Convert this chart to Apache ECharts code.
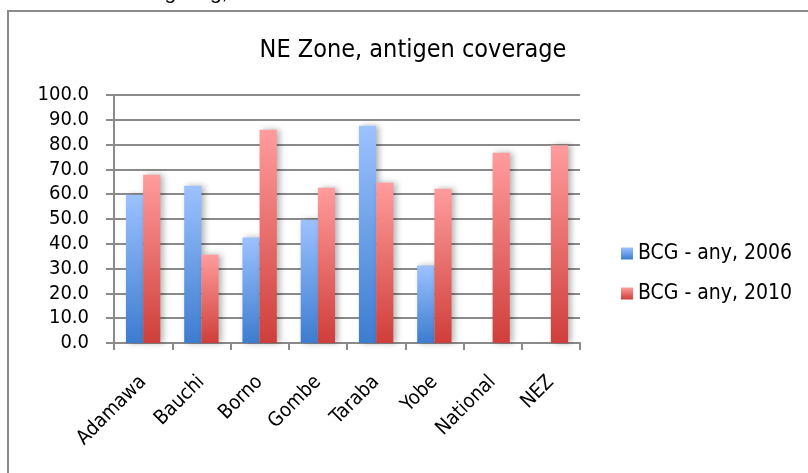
<!DOCTYPE html>
<html>
<head>
<meta charset="utf-8">
<script src="https://cdn.jsdelivr.net/npm/echarts@6/dist/echarts.min.js"></script>
<style>
  html, body { margin: 0; padding: 0; background: #fff; }
  #chart { width: 808px; height: 473px; }
</style>
</head>
<body>
<div id="chart"></div>
<script>
// Regions of the North-East zone plus national and zone averages
const regions = ['Adamawa', 'Bauchi', 'Borno', 'Gombe', 'Taraba', 'Yobe', 'National', 'NEZ'];

// BCG coverage (%) by survey year; no 2006 figure for National / NEZ
const bcg2006 = [59.8, 63.4, 42.5, 49.7, 87.6, 31.2, null, null];
const bcg2010 = [67.8, 35.6, 86.0, 62.6, 64.6, 62.2, 76.7, 79.7];

const seriesNames = ['BCG - any, 2006', 'BCG - any, 2010'];
const chartTitle = 'NE Zone, antigen coverage';
const clippedLine = 'for better targeting, and care to';

const FONT = "'DejaVu Sans Condensed', 'DejaVu Sans', sans-serif";
const GRID_GREY = '#8a8a8a';

function vGradient(top, bottom) {
  return new echarts.graphic.LinearGradient(0, 0, 0, 1, [
    { offset: 0, color: top },
    { offset: 1, color: bottom }
  ]);
}

const barShadow = {
  shadowColor: 'rgba(0,0,0,0.30)',
  shadowBlur: 6,
  shadowOffsetX: 3,
  shadowOffsetY: 0
};

const chart = echarts.init(document.getElementById('chart'), null, { renderer: 'canvas' });

chart.setOption({
  animation: false,
  backgroundColor: '#ffffff',
  title: {
    text: chartTitle,
    left: 408,
    textAlign: 'center',
    top: 33,
    textStyle: { fontFamily: FONT, fontSize: 25, fontWeight: 'normal', color: '#000' }
  },
  legend: {
    orient: 'vertical',
    left: 621,
    top: 243,
    padding: 0,
    itemWidth: 12,
    itemHeight: 12,
    itemGap: 19,
    icon: 'rect',
    data: seriesNames,
    textStyle: { fontFamily: FONT, fontSize: 21, color: '#000' }
  },
  grid: { left: 114, right: 228, top: 95, bottom: 130, containLabel: false },
  xAxis: {
    type: 'category',
    data: regions,
    axisLine: { show: true, lineStyle: { color: GRID_GREY, width: 2 } },
    axisTick: { show: true, length: 7, alignWithLabel: false, lineStyle: { color: GRID_GREY, width: 2 } },
    axisLabel: { rotate: 45, margin: 36, interval: 0, fontFamily: FONT, fontSize: 20, color: '#000' }
  },
  yAxis: {
    type: 'value',
    min: 0,
    max: 100,
    interval: 10,
    axisLine: { show: true, lineStyle: { color: GRID_GREY, width: 2 } },
    axisTick: { show: true, length: 8, lineStyle: { color: GRID_GREY, width: 2 } },
    axisLabel: {
      margin: 25,
      fontFamily: FONT,
      fontSize: 20,
      color: '#000',
      formatter: v => v.toFixed(1)
    },
    splitLine: { show: true, lineStyle: { color: GRID_GREY, width: 2 } }
  },
  series: [
    {
      name: seriesNames[0],
      type: 'bar',
      data: bcg2006,
      barGap: '0%',
      barCategoryGap: '41%',
      itemStyle: Object.assign({ color: vGradient('#9cc2ff', '#3d7ccf') }, barShadow)
    },
    {
      name: seriesNames[1],
      type: 'bar',
      data: bcg2010,
      barGap: '0%',
      barCategoryGap: '41%',
      itemStyle: Object.assign({ color: vGradient('#ff9c9c', '#cf3e3a') }, barShadow)
    }
  ],
  graphic: [
    {
      type: 'rect',
      silent: true,
      shape: { x: 8, y: 11, width: 900, height: 600 },
      style: { fill: 'none', stroke: '#8a8a8a', lineWidth: 2 }
    },
    {
      type: 'text',
      silent: true,
      x: 50,
      y: 4,
      style: {
        text: clippedLine,
        font: "21px 'Liberation Sans', Arial, sans-serif",
        fill: '#000',
        verticalAlign: 'bottom'
      }
    }
  ]
});
</script>
</body>
</html>
